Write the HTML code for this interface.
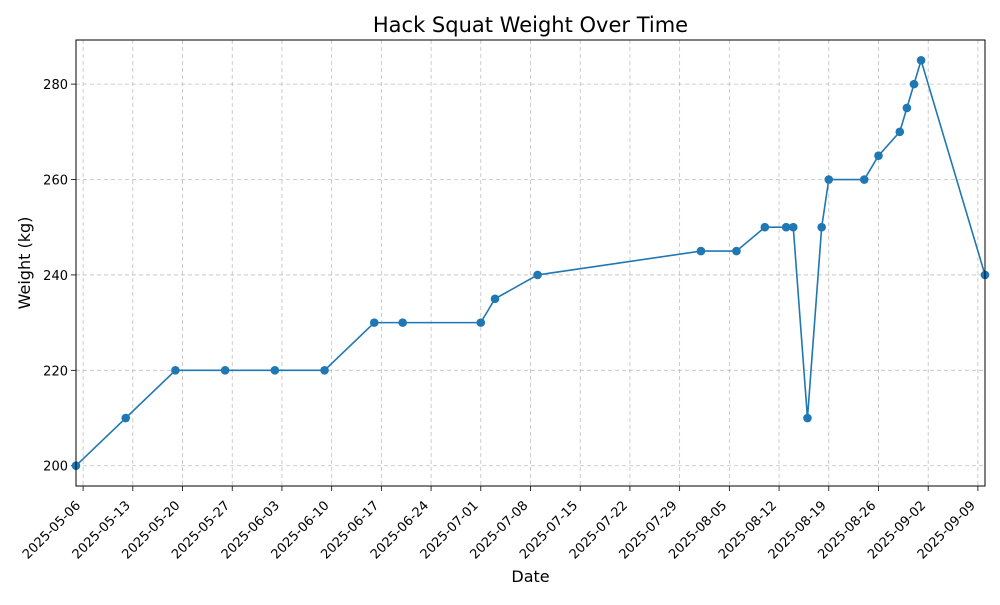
<!DOCTYPE html>
<html><head><meta charset="utf-8"><style>
body{margin:0;background:#fff;font-family:"Liberation Sans","DejaVu Sans",sans-serif;}
svg text{font-family:"DejaVu Sans","Liberation Sans",sans-serif;}
</style></head><body>
<svg id="chart" width="1000" height="600" xmlns="http://www.w3.org/2000/svg"></svg>
<script>
const dates=["2025-05-05","2025-05-12","2025-05-19","2025-05-26","2025-06-02","2025-06-09","2025-06-16","2025-06-20","2025-07-01","2025-07-03","2025-07-09","2025-08-01","2025-08-06","2025-08-10","2025-08-13","2025-08-14","2025-08-16","2025-08-18","2025-08-19","2025-08-24","2025-08-26","2025-08-29","2025-08-30","2025-08-31","2025-09-01","2025-09-10"];
const weights=[200,210,220,220,220,220,230,230,230,235,240,245,245,250,250,250,210,250,260,260,265,270,275,280,285,240];
const xTicks=["2025-05-06","2025-05-13","2025-05-20","2025-05-27","2025-06-03","2025-06-10","2025-06-17","2025-06-24","2025-07-01","2025-07-08","2025-07-15","2025-07-22","2025-07-29","2025-08-05","2025-08-12","2025-08-19","2025-08-26","2025-09-02","2025-09-09"];
const yTicks=[200,220,240,260,280];

const L=76,R=985,T=40,B=486;
const NS="http://www.w3.org/2000/svg";
const svg=document.getElementById('chart');
const day=s=>Date.parse(s+"T00:00:00Z")/86400000;
const dmin=Math.min(...dates.map(day)),dmax=Math.max(...dates.map(day));
const x0=dmin,x1=dmax;
const wmin=Math.min(...weights),wmax=Math.max(...weights),wm=(wmax-wmin)*0.05;
const y0=wmin-wm,y1=wmax+wm;
const X=s=>L+(day(s)-x0)/(x1-x0)*(R-L);
const Y=v=>B-(v-y0)/(y1-y0)*(B-T);
function el(tag,attrs,text){const e=document.createElementNS(NS,tag);for(const k in attrs)e.setAttribute(k,attrs[k]);if(text!=null)e.textContent=text;svg.appendChild(e);return e;}

xTicks.forEach(t=>{const x=X(t);
 const g=el('line',{x1:x,x2:x,y1:T,y2:B,stroke:'#b0b0b0','stroke-width':0.8,'stroke-dasharray':'4,3',opacity:0.8});
 
 
 el('line',{x1:x,x2:x,y1:B,y2:B+5,stroke:'#000','stroke-width':0.8});
 const ax=x-6,ay=B+16;
 const lb=el('text',{x:ax,y:ay,'font-size':13,'text-anchor':'end',transform:`rotate(-45 ${ax} ${ay})`,dy:'0.45em'},t);
 
 
});
yTicks.forEach(t=>{const y=Y(t);
 const g=el('line',{x1:L,x2:R,y1:y,y2:y,stroke:'#b0b0b0','stroke-width':0.8,'stroke-dasharray':'4,3',opacity:0.8});
 
 
 el('line',{x1:L-5,x2:L,y1:y,y2:y,stroke:'#000','stroke-width':0.8});
 const lb=el('text',{x:L-8,y:y+5,'font-size':13,'text-anchor':'end'},t);
 
 
});
const pts=dates.map((d,i)=>X(d)+','+Y(weights[i])).join(' ');
const pl=el('polyline',{points:pts,fill:'none',stroke:'#1f77b4','stroke-width':1.6});


dates.forEach((d,i)=>{const c=el('circle',{cx:X(d),cy:Y(weights[i]),r:4.3,fill:'#1f77b4'});
 
 
});
const fr=el('rect',{x:L,y:T,width:R-L,height:B-T,fill:'none',stroke:'#000','stroke-width':1});


const ti=el('text',{x:(L+R)/2,y:32,'font-size':21,'text-anchor':'middle'},'Hack Squat Weight Over Time');


const xl=el('text',{x:(L+R)/2,y:582,'font-size':16,'text-anchor':'middle'},'Date');


const yl=el('text',{x:30,y:(T+B)/2,'font-size':16,'text-anchor':'middle',transform:`rotate(-90 30 ${(T+B)/2})`},'Weight (kg)');


</script>
</body></html>
